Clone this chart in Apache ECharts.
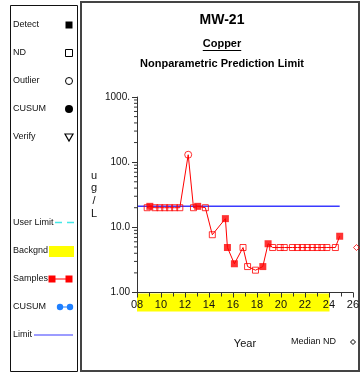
<!DOCTYPE html>
<html>
<head>
<meta charset="utf-8">
<script src="https://cdn.jsdelivr.net/npm/echarts@6/dist/echarts.min.js"></script>
<style>
  html, body { margin: 0; padding: 0; background: #fff; }
  #chart { width: 362px; height: 374px; }
</style>
</head>
<body>
<div id="chart"></div>
<script>
// Copper results at MW-21 (ug/L) by sample date (decimal year, 2-digit)
const sampleYears = [8.85, 9.07, 9.49, 9.9, 10.31, 10.72, 11.14, 11.57, 12.27, 12.71, 13.06, 13.7,
  14.28, 15.37, 15.54, 16.12, 16.84, 17.22, 17.88, 18.49, 18.93, 19.31, 19.93, 20.28, 20.96,
  21.38, 21.79, 22.2, 22.62, 23.03, 23.42, 23.83, 24.54, 24.9];
const sampleValues = [20, 21, 20, 20, 20, 20, 20, 20, 130, 20, 21, 20,
  7.7, 13.6, 4.9, 2.76, 4.9, 2.5, 2.2, 2.5, 5.6, 4.9, 4.9, 4.9, 4.9,
  4.9, 4.9, 4.9, 4.9, 4.9, 4.9, 4.9, 4.9, 7.3];
// D = detect, N = non-detect, O = outlier
const sampleKinds = ['N', 'D', 'N', 'N', 'N', 'N', 'N', 'N', 'O', 'N', 'D', 'N',
  'N', 'D', 'D', 'D', 'N', 'N', 'N', 'D', 'D', 'N', 'N', 'N', 'N',
  'N', 'N', 'N', 'N', 'N', 'N', 'N', 'N', 'D'];

const limitValue = 21;
const limitYears = [8, 24.9];
const backgroundYears = [8, 24.05];
const medianNdPoint = [26.3, 4.9];

const xRange = [8, 26];
const yRange = [1, 1000];
const yTickLabels = { 1: '1.00', 10: '10.0', 100: '100.', 1000: '1000.' };
const yMinorTicks = [2, 3, 4, 5, 6, 7, 8, 9, 20, 30, 40, 50, 60, 70, 80, 90,
  200, 300, 400, 500, 600, 700, 800, 900];

const FONT = '"Liberation Sans", Arial, sans-serif';
const RED = '#ff0000';
const BLUE = '#3a3aff';
const AXIS = '#333333';

const points = (kind) => sampleYears
  .map((yr, i) => (sampleKinds[i] === kind ? [yr, sampleValues[i]] : null))
  .filter(Boolean);

function textWidth(str, font) {
  const ctx = document.createElement('canvas').getContext('2d');
  ctx.font = font;
  return ctx.measureText(str).width;
}

const chart = echarts.init(document.getElementById('chart'), null, { renderer: 'canvas' });

const titleCx = 222;
const copperW = textWidth('Copper', 'bold 11px ' + FONT);

// key panel entries
const keyRows = [
  ['Detect', 25], ['ND', 53], ['Outlier', 81], ['CUSUM', 109], ['Verify', 137],
  ['User Limit', 223], ['Backgnd', 251], ['Samples', 279], ['CUSUM', 307], ['Limit', 335]
];
const keyGraphics = keyRows.map(([t, y]) => ({
  type: 'text', left: 13, top: y - 5,
  style: { text: t, font: '9px ' + FONT, fill: '#111' }
}));

const headingStyle = (size) => ({ fontFamily: FONT, fontSize: size, fontWeight: 'bold', color: '#000' });

const option = {
  animation: false,
  backgroundColor: '#fff',
  title: [
    { text: 'MW-21', left: titleCx, top: 13, textAlign: 'center', padding: 0, textStyle: headingStyle(14) },
    { text: 'Copper', left: titleCx, top: 38, textAlign: 'center', padding: 0, textStyle: headingStyle(11) },
    { text: 'Nonparametric Prediction Limit', left: titleCx, top: 58, textAlign: 'center', padding: 0, textStyle: headingStyle(11) }
  ],
  grid: { left: 137, right: 7.5, top: 97, bottom: 81.5, containLabel: false },
  xAxis: {
    type: 'value', min: xRange[0], max: xRange[1], interval: 2, z: 10,
    name: 'Year', nameLocation: 'middle', nameGap: 46,
    nameTextStyle: { fontFamily: FONT, fontSize: 11, color: '#111' },
    axisLine: { lineStyle: { color: AXIS, width: 1 } },
    axisTick: { show: true, length: 5, lineStyle: { color: AXIS } },
    minorTick: { show: true, splitNumber: 2, length: 4, lineStyle: { color: AXIS } },
    splitLine: { show: false },
    axisLabel: {
      margin: 7, fontFamily: FONT, fontSize: 11, color: '#111',
      formatter: (v) => (v < 10 ? '0' + v : String(v))
    }
  },
  yAxis: {
    type: 'log', logBase: 10, min: yRange[0], max: yRange[1], z: 10,
    name: 'u\ng\n/\nL', nameLocation: 'middle', nameGap: 43, nameRotate: 0,
    nameTextStyle: { fontFamily: FONT, fontSize: 11, color: '#111', lineHeight: 12.7, align: 'center' },
    axisLine: { show: true, lineStyle: { color: AXIS, width: 1 } },
    axisTick: { show: true, length: 5, lineStyle: { color: AXIS } },
    splitLine: { show: false },
    axisLabel: {
      margin: 7, fontFamily: FONT, fontSize: 10, color: '#111',
      formatter: (v) => yTickLabels[Math.round(v)] || ''
    }
  },
  series: [
    {
      // background period band under the year axis
      type: 'custom', z: 1, silent: true, clip: false,
      data: [backgroundYears],
      renderItem: (params, api) => {
        const a = api.coord([api.value(0), yRange[0]]);
        const b = api.coord([api.value(1), yRange[0]]);
        return { type: 'rect', shape: { x: a[0], y: a[1] + 1, width: b[0] - a[0], height: 18 },
          style: { fill: '#ffff00' } };
      }
    },
    {
      // log-scale minor ticks on the concentration axis
      type: 'custom', z: 11, silent: true, clip: false,
      data: yMinorTicks.map((v) => [xRange[0], v]),
      renderItem: (params, api) => {
        const p = api.coord([api.value(0), api.value(1)]);
        return { type: 'line', shape: { x1: p[0] - 3, y1: p[1], x2: p[0], y2: p[1] },
          style: { stroke: AXIS, lineWidth: 1 } };
      }
    },
    {
      name: 'Limit', type: 'line', symbol: 'none', silent: true,
      data: limitYears.map((yr) => [yr, limitValue]),
      lineStyle: { color: BLUE, width: 1.5 }, z: 3
    },
    {
      name: 'Samples', type: 'line', symbol: 'none', silent: true,
      data: sampleYears.map((yr, i) => [yr, sampleValues[i]]),
      lineStyle: { color: RED, width: 1 }, z: 4
    },
    {
      name: 'Detect', type: 'scatter', symbol: 'rect', symbolSize: 7,
      data: points('D'), itemStyle: { color: RED }, z: 5
    },
    {
      name: 'ND', type: 'scatter', symbol: 'rect', symbolSize: 6,
      data: points('N'),
      itemStyle: { color: 'rgba(255,255,255,0)', borderColor: RED, borderWidth: 1 }, z: 5
    },
    {
      name: 'Outlier', type: 'scatter', symbol: 'circle', symbolSize: 7,
      data: points('O'),
      itemStyle: { color: 'rgba(255,255,255,0)', borderColor: RED, borderWidth: 1 }, z: 5
    },
    {
      name: 'Median ND', type: 'scatter', symbol: 'diamond', symbolSize: 6, clip: false,
      data: [medianNdPoint],
      itemStyle: { color: 'rgba(255,255,255,0)', borderColor: RED, borderWidth: 1 }, z: 5
    }
  ],
  graphic: [
    // frames
    { type: 'rect', shape: { x: 10.5, y: 5.5, width: 67, height: 366 },
      style: { fill: 'none', stroke: '#111', lineWidth: 1 }, silent: true },
    { type: 'rect', shape: { x: 81, y: 2, width: 278, height: 369 },
      style: { fill: 'none', stroke: '#444', lineWidth: 2 }, silent: true },
    // title underline
    { type: 'line', shape: { x1: titleCx - copperW / 2, y1: 50.5, x2: titleCx + copperW / 2, y2: 50.5 },
      style: { stroke: '#000', lineWidth: 1 }, silent: true },
    ...keyGraphics,
    // key symbols
    { type: 'rect', shape: { x: 65.5, y: 21.5, width: 7, height: 7 }, style: { fill: '#000' } },
    { type: 'rect', shape: { x: 65.5, y: 49.5, width: 7, height: 7 }, style: { fill: 'none', stroke: '#000', lineWidth: 1 } },
    { type: 'circle', shape: { cx: 69, cy: 81, r: 3.5 }, style: { fill: 'none', stroke: '#000', lineWidth: 1 } },
    { type: 'circle', shape: { cx: 69, cy: 109, r: 4 }, style: { fill: '#000' } },
    { type: 'polygon', shape: { points: [[65, 134], [73, 134], [69, 141]] }, style: { fill: 'none', stroke: '#000', lineWidth: 1.2 } },
    { type: 'line', shape: { x1: 55, y1: 222.5, x2: 74, y2: 222.5 }, style: { stroke: '#44e8e8', lineWidth: 1.5, lineDash: [7, 5] } },
    { type: 'rect', shape: { x: 49, y: 246, width: 25, height: 11 }, style: { fill: '#ffff00' } },
    { type: 'line', shape: { x1: 52, y1: 279, x2: 69, y2: 279 }, style: { stroke: RED, lineWidth: 1 } },
    { type: 'rect', shape: { x: 48.5, y: 275.5, width: 7, height: 7 }, style: { fill: RED } },
    { type: 'rect', shape: { x: 65.5, y: 275.5, width: 7, height: 7 }, style: { fill: RED } },
    { type: 'line', shape: { x1: 60, y1: 307, x2: 70, y2: 307 }, style: { stroke: '#1e7fff', lineWidth: 1 } },
    { type: 'circle', shape: { cx: 60, cy: 307, r: 3.2 }, style: { fill: '#1e7fff' } },
    { type: 'circle', shape: { cx: 70, cy: 307, r: 3.2 }, style: { fill: '#1e7fff' } },
    { type: 'line', shape: { x1: 34, y1: 335, x2: 73, y2: 335 }, style: { stroke: BLUE, lineWidth: 1.2 } },
    // median ND key
    { type: 'text', left: 291, top: 337, style: { text: 'Median ND', font: '9px ' + FONT, fill: '#111' } },
    { type: 'polygon', shape: { points: [[353, 339.5], [355.5, 342], [353, 344.5], [350.5, 342]] },
      style: { fill: 'none', stroke: '#000', lineWidth: 1 } }
  ]
};

chart.setOption(option);
</script>
</body>
</html>
